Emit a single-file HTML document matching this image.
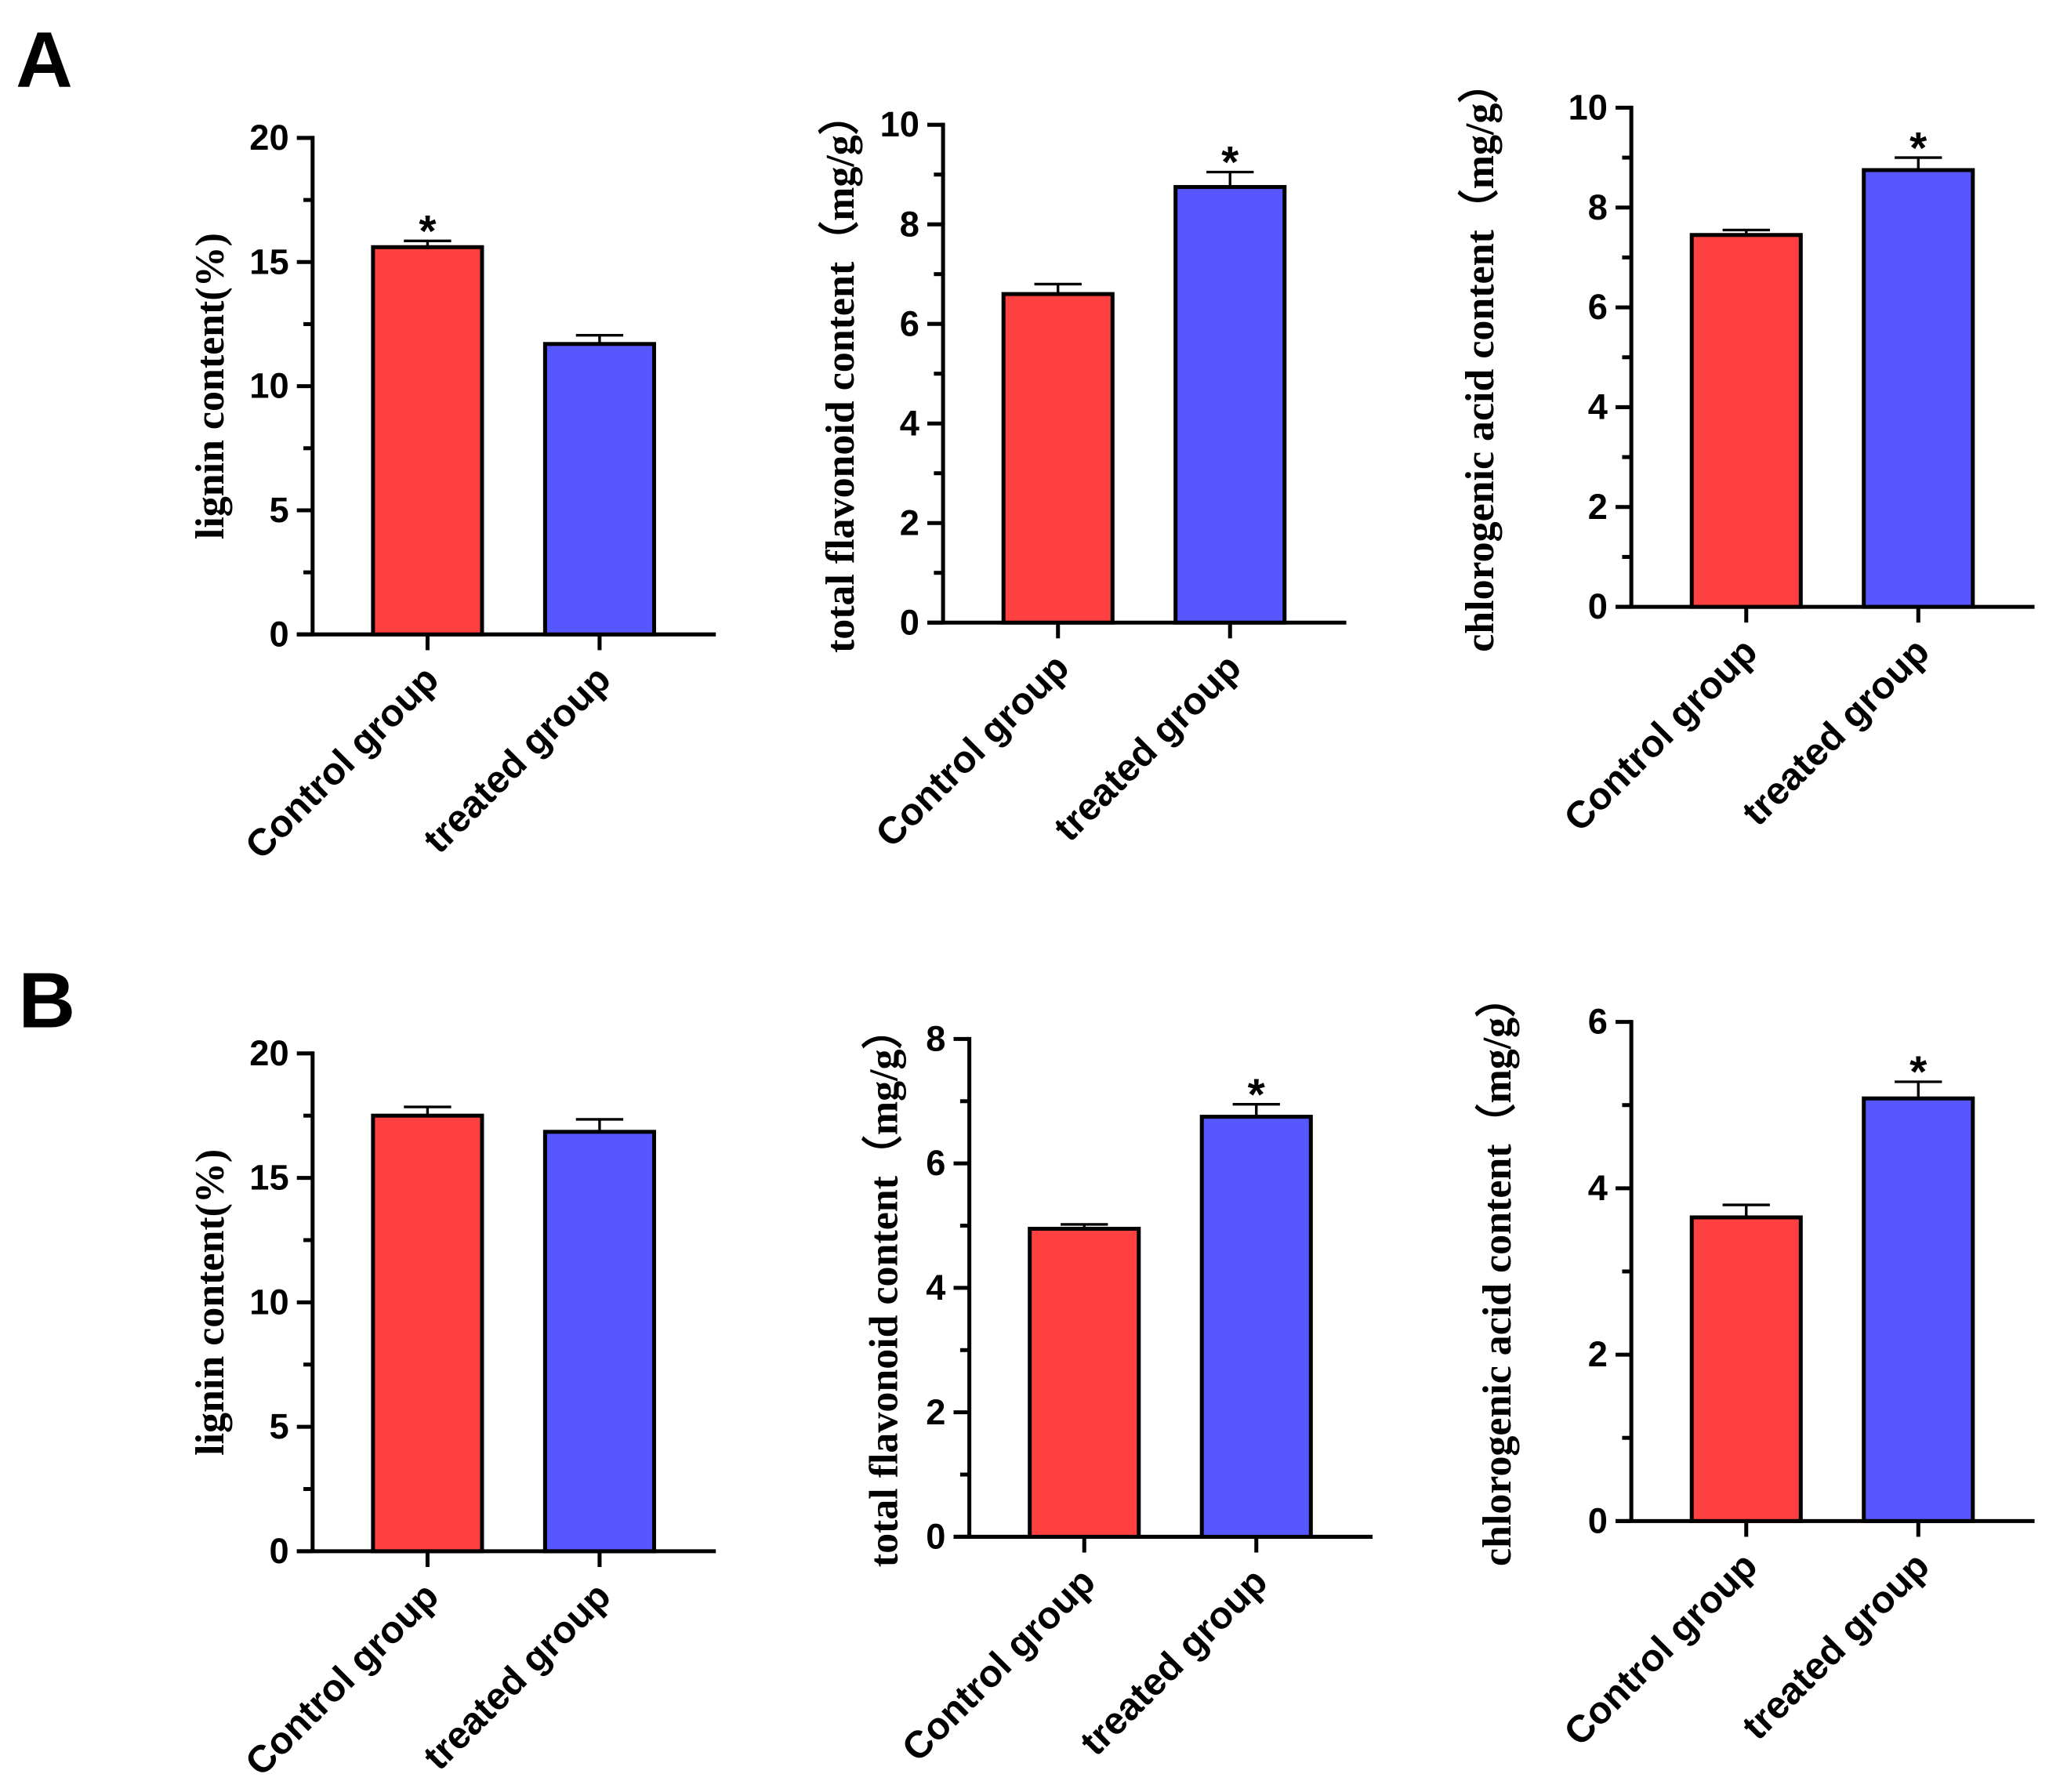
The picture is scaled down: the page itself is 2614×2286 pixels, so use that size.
<!DOCTYPE html>
<html><head><meta charset="utf-8"><style>
html,body{margin:0;padding:0;background:#fff;}
svg{display:block;}
.tick{font-family:"Liberation Sans",Arial,sans-serif;font-weight:bold;font-size:27px;fill:#000;}
.cat{font-family:"Liberation Sans",Arial,sans-serif;font-weight:bold;font-size:29px;fill:#000;}
.yt{font-family:"Liberation Serif","Times New Roman",serif;font-weight:bold;font-size:31px;fill:#000;}
.panel{font-family:"Liberation Sans",Arial,sans-serif;font-weight:bold;font-size:60px;fill:#000;}
.star{font-family:"Liberation Sans",Arial,sans-serif;font-weight:bold;font-size:34px;fill:#000;}
</style></head><body>
<svg id="fig" width="2614" height="2286" viewBox="0 0 1560 1364.3" preserveAspectRatio="none" xmlns="http://www.w3.org/2000/svg">
<text class="panel" x="12" y="66">A</text>
<text class="panel" x="14" y="782">B</text>
</svg>
<script>
// data
const categories = ["Control group", "treated group"];
const titles = ["lignin content(%)", "total flavonoid content\uFF08mg/g\uFF09", "chlorogenic acid content\uFF08mg/g\uFF09",
                "lignin content(%)", "total flavonoid content\uFF08mg/g\uFF09", "chlorogenic acid content\uFF08mg/g\uFF09"];
const means = [[15.6, 11.7], [6.6, 8.75], [7.45, 8.75], [17.5, 16.85], [4.95, 6.75], [3.65, 5.08]];
const errs = [[0.25, 0.35], [0.2, 0.3], [0.1, 0.25], [0.35, 0.5], [0.07, 0.2], [0.15, 0.2]];
const stars = [[true, false], [false, true], [false, true], [false, false], [false, true], [false, true]];
const yMax = [20, 10, 10, 20, 8, 6];
const yMajor = [5, 2, 2, 5, 2, 2];
const colors = ["#FF4040", "#5757FF"];
// layout (positions only)
const layout = [
  {ax:238, top:105, bot:483, tx:160},
  {ax:718, top:95, bot:474, tx:640},
  {ax:1242, top:82, bot:462, tx:1127},
  {ax:238, top:802, bot:1181, tx:160},
  {ax:738, top:791, bot:1170, tx:673},
  {ax:1242, top:778, bot:1158, tx:1140}
];
const svg = document.getElementById('fig');
const NS = "http://www.w3.org/2000/svg";
function mk(tag, attrs, parent){const e=document.createElementNS(NS,tag);for(const k in attrs)e.setAttribute(k,attrs[k]);(parent||svg).appendChild(e);return e;}
layout.forEach((L, p) => {
  const g = mk('g', {});
  
  
  const y = v => L.bot - (v / yMax[p]) * (L.bot - L.top);
  const xEnd = L.ax + 307;
  const bandX = i => L.ax + 46 + i * 131;
  const bw = 83;
  const ya = mk('line', {x1:L.ax, y1:L.top-1.5, x2:L.ax, y2:L.bot, stroke:'#000', 'stroke-width':3}, g);
  
  
  const xa = mk('line', {x1:L.ax-12, y1:L.bot, x2:xEnd, y2:L.bot, stroke:'#000', 'stroke-width':3}, g);
  
  
  const minor = yMajor[p] / 2;
  for (let v = 0; v <= yMax[p] + 1e-9; v += minor) {
    const isMaj = Math.abs(v / yMajor[p] - Math.round(v / yMajor[p])) < 1e-6;
    mk('line', {x1:L.ax - (isMaj ? 12 : 7), y1:y(v), x2:L.ax, y2:y(v), stroke:'#000', 'stroke-width':3}, g);
    if (isMaj) {
      const t = mk('text', {class:'tick', x:L.ax - 18, y:y(v) + 9, 'text-anchor':'end'}, g);
      t.textContent = String(Math.round(v));
      
      
    }
  }
  const yt = mk('text', {class:'yt', x:0, y:0, 'text-anchor':'middle', transform:`translate(${L.tx + 10},${(L.top + L.bot) / 2}) rotate(-90)`}, g);
  yt.textContent = titles[p];
  
  
  categories.forEach((c, i) => {
    const x0 = bandX(i), cx = x0 + bw / 2;
    const r = mk('rect', {x:x0, y:y(means[p][i]), width:bw, height:L.bot - y(means[p][i]), fill:colors[i], stroke:'#000', 'stroke-width':3}, g);
    
    
    const et = y(means[p][i] + errs[p][i]);
    const e1 = mk('line', {x1:cx, y1:y(means[p][i]), x2:cx, y2:et, stroke:'#000', 'stroke-width':2}, g);
    
    
    mk('line', {x1:cx - 18, y1:et, x2:cx + 18, y2:et, stroke:'#000', 'stroke-width':2}, g);
    if (stars[p][i]) {
      const s = mk('text', {class:'star', x:cx, y:et + 4, 'text-anchor':'middle'}, g);
      s.textContent = '*';
      
      
    }
    mk('line', {x1:cx, y1:L.bot, x2:cx, y2:L.bot + 12, stroke:'#000', 'stroke-width':3}, g);
    const ct = mk('text', {class:'cat', x:0, y:0, 'text-anchor':'end', transform:`translate(${cx + 10},${L.bot + 36}) rotate(-45)`}, g);
    ct.textContent = c;
    
    
  });
});
</script>
</body></html>
